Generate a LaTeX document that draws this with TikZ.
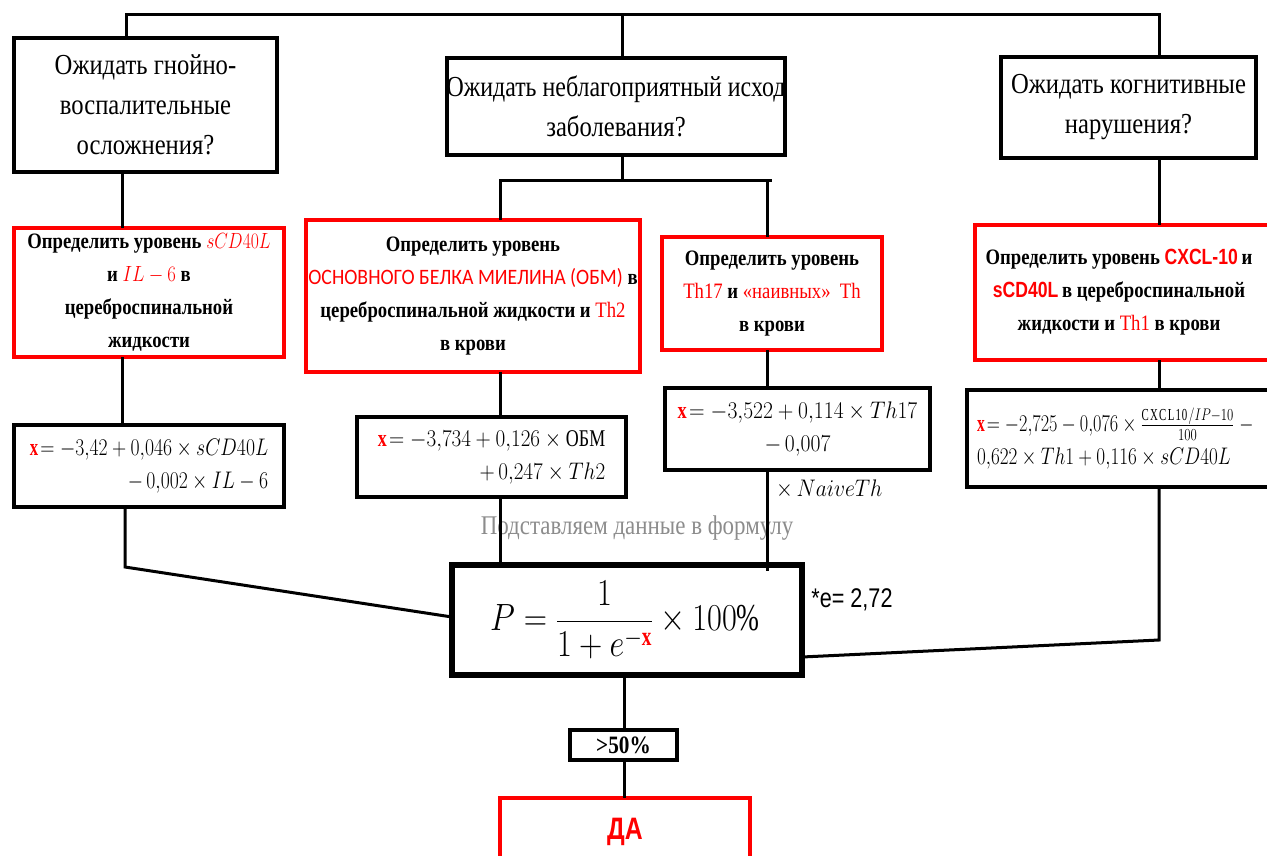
\RequirePackage{fix-cm}
\documentclass[tikz,border=0pt]{standalone}
\usepackage{amsmath}
\usepackage{graphicx}
\usepackage{fontspec}
\setmainfont{Liberation Serif}[FakeStretch=0.85]
\newfontfamily\carl{Carlito}[FakeStretch=0.9]
\newfontfamily\narrow{Liberation Sans}[FakeStretch=0.8]
\definecolor{rd}{RGB}{255,0,0}
\newcommand{\rx}{\textcolor{rd}{\textbf{x}}}
\newcommand{\hs}[2][0.85]{\scalebox{#1}[1]{#2}}
\begin{document}
\begin{tikzpicture}[x=1pt,y=-1pt,
  box/.style={draw, line width=4pt, inner sep=0pt, outer sep=0pt, align=center},
  rbox/.style={box, draw=rd},
  conn/.style={line width=3pt},
  qt/.style={font=\fontsize{29}{40}\selectfont},
  rt/.style={font=\fontsize{22}{33}\selectfont\bfseries},
  ft/.style={font=\fontsize{24}{33}\selectfont}]
\useasboundingbox (0,0) rectangle (1267,855);

% question boxes
\node[box, qt, minimum width=263pt, minimum height=134pt] (q1) at (145.5,105) {Ожидать гнойно-\\воспалительные\\осложнения?};
\node[box, qt, minimum width=334pt, minimum height=97pt] (q2) at (616,106.5) {\hs[0.97]{Ожидать неблагоприятный исход}\\заболевания?};
\node[box, qt, minimum width=255pt, minimum height=101pt] (q3) at (1128.5,107.5) {Ожидать когнитивные\\нарушения?};

% red boxes
\node[rbox, rt, minimum width=270pt, minimum height=129pt] (r1) at (149,292.5)
  {Определить уровень \textcolor{rd}{\hs[0.8]{$sCD40L$}}\\ и \textcolor{rd}{\hs[0.85]{$IL-6$}} в\\ цереброспинальной\\ жидкости};
\node[rbox, rt, minimum width=334pt, minimum height=152pt] (r2) at (473,296)
  {Определить уровень\\ \makebox[300pt]{\textcolor{rd}{\mdseries\carl ОСНОВНОГО БЕЛКА МИЕЛИНА (ОБМ)} в}\\ цереброспинальной жидкости и \textcolor{rd}{\mdseries Th2}\\ в крови};
\node[rbox, rt, minimum width=220pt, minimum height=113pt] (r3) at (772,293.5)
  {Определить уровень\\ \textcolor{rd}{\mdseries Th17} и \textcolor{rd}{\mdseries «наивных»\ \ Th}\\ в крови};
\node[rbox, rt, minimum width=300pt, minimum height=135pt] (r4) at (1125,292.5)
  {\hspace*{-12pt}\makebox[240pt]{Определить уровень \textcolor{rd}{\narrow CXCL-10}\,и}\\ \hspace*{-12pt}\textcolor{rd}{\narrow sCD40L}\,в цереброспинальной\\ \hspace*{-12pt}жидкости и \textcolor{rd}{\mdseries Th1} в крови};

% formula boxes
\node[box, ft, align=right, minimum width=270pt, minimum height=82pt] (f1) at (149,466)
  {\hs[0.82]{$\rx\!= -3{,}42 + 0{,}046\times sCD40L$}\\ \hs[0.82]{$-\,0{,}002\times IL-6$}};
\node[box, ft, align=right, minimum width=269pt, minimum height=80pt] (f2) at (491.5,457)
  {\hs[0.88]{$\rx\!= -3{,}734 + 0{,}126\times \text{ОБМ}$}\\ \hs[0.88]{$+\,0{,}247\times Th2$}};
\node[box, ft, align=center, minimum width=265pt, minimum height=82pt] (f3) at (797.5,429)
  {\hs[0.9]{$\rx\!= -3{,}522 + 0{,}114\times Th17$}\\ \hs[0.9]{$-\,0{,}007$}};
\node[ft, anchor=west, inner sep=0pt] (f3x) at (776,489) {\hs[0.9]{$\times\, NaiveTh$}};
\node[box, ft, align=left, text width=285pt, minimum width=305pt, minimum height=97pt] (f4) at (1119.5,438.5)
  {\hs[0.76]{$\rx\!=-2{,}725 - 0{,}076\times \frac{\mathrm{CXCL10}/IP-10}{100}\;-$}\\ \hs[0.8]{$0{,}622\times Th1 + 0{,}116\times sCD40L$}};

\node[font=\fontsize{27}{30}\selectfont, text=black!45] (sub) at (637,528) {Подставляем данные в формулу};

% probability box
\node[box, line width=6pt, minimum width=350pt, minimum height=110pt, font=\fontsize{38}{44}\selectfont] (P) at (627,620)
  {\hs{$P=\dfrac{1}{1+e^{-\rx}}\times 100\%$}};
\node[font=\narrow\fontsize{27}{30}\selectfont] (e) at (852,600) {*e= 2,72};

\node[box, line width=3.5pt, minimum width=107pt, minimum height=30pt, font=\fontsize{25}{25}\selectfont\bfseries] (g) at (623.5,745) {>50\%};
\node[rbox, minimum width=250pt, minimum height=80pt] (da) at (625,838) {};
\node[font=\narrow\bfseries\fontsize{31}{31}\selectfont, text=rd] (dat) at (625,832) {ДА};

% connectors
\coordinate (t1) at (126,14);
\coordinate (t2) at (622,14);
\coordinate (t3) at (1159,14);
\draw[conn] (t1 |- q1.north) -- (t1) -- (t3) -- (t3 |- q3.north);
\draw[conn] (t2) -- (t2 |- q2.north);

\coordinate (v1) at (122,0);
\draw[conn] (v1 |- q1.south) -- (v1 |- r1.north);
\draw[conn] (v1 |- r1.south) -- (v1 |- f1.north);

\coordinate (s0) at (622,180);
\coordinate (sL) at (500,180);
\coordinate (sR) at (767,180);
\coordinate (sE) at (772,180);
\draw[conn] (s0 |- q2.south) -- (s0);
\draw[conn] (sL |- r2.north) -- (sL) -- (sE);
\draw[conn] (sR) -- (sR |- r3.north);
\draw[conn] (sL |- r2.south) -- (sL |- f2.north);
\draw[conn] (sR |- r3.south) -- (sR |- f3.north);

\coordinate (v4) at (1159,0);
\draw[conn] (v4 |- q3.south) -- (v4 |- r4.north);
\draw[conn] (v4 |- r4.south) -- (v4 |- f4.north);

\coordinate (k1) at (125,567);
\draw[conn] (k1 |- f1.south) -- (k1) -- ([yshift=3pt]P.west);
\draw[conn] (sL |- f2.south) -- (sL |- P.north);
\draw[conn] (sR |- f3.south) -- ([yshift=-6pt]sR |- P.north);
\coordinate (k4) at (1159,640);
\draw[conn] (k4 |- f4.south) -- (k4) -- ([yshift=-37pt]P.east);

\coordinate (k5) at (624,0);
\draw[conn] (k5 |- P.south) -- (k5 |- g.north);
\draw[conn] (k5 |- g.south) -- (k5 |- da.north);
\end{tikzpicture}
\end{document}
